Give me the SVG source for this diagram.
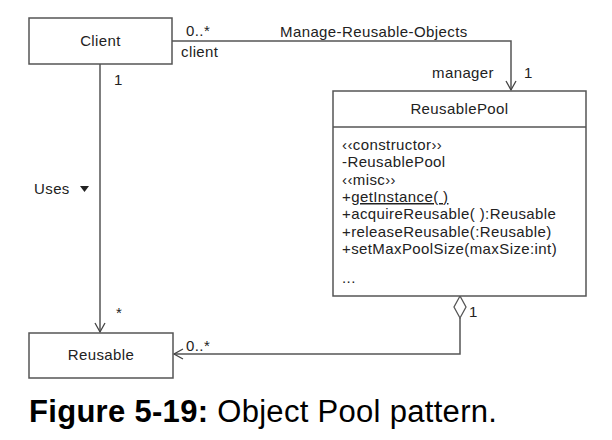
<svg xmlns="http://www.w3.org/2000/svg" width="612" height="440" viewBox="0 0 612 440">
<style>
.box{fill:#fff;stroke:#555;stroke-width:1.5}
.t{font-family:"Liberation Sans",Arial,sans-serif;font-size:15px;letter-spacing:0.4px;fill:#222}
.c{stroke:#555;stroke-width:1.5;fill:none}
.cap{font-family:"Liberation Sans",Arial,sans-serif;font-size:31px;letter-spacing:0.3px;fill:#000}
</style>
<defs>
<marker id="open" markerWidth="12" markerHeight="12" refX="10" refY="6" orient="auto" markerUnits="userSpaceOnUse">
<path d="M1,1 L10,6 L1,11" fill="none" stroke="#444" stroke-width="1.3"/>
</marker>
</defs>
<rect width="612" height="440" fill="#fff"/>
<g id="connectors">
<path class="c" d="M172,41 H511 V90" marker-end="url(#open)"/>
<path class="c" d="M100,64 V332" marker-end="url(#open)"/>
<path class="c" d="M460,318 V354 H174" marker-end="url(#open)"/>
<path d="M460,296 L466,307 L460,318 L454,307 Z" fill="#fff" stroke="#555" stroke-width="1.3"/>
<text class="t" x="186" y="36">0..*</text>
<text class="t" x="181" y="57">client</text>
<text class="t" x="280" y="37">Manage-Reusable-Objects</text>
<text class="t" x="432" y="78">manager</text>
<text class="t" x="524" y="78">1</text>
<text class="t" x="114" y="85">1</text>
<text class="t" x="34" y="194">Uses</text>
<path d="M80,186 L89,186 L84.5,192 Z" fill="#222"/>
<text class="t" x="116" y="318">*</text>
<text class="t" x="469" y="317">1</text>
<text class="t" x="186" y="351">0..*</text>
</g>
<g id="client">
<rect class="box" x="29" y="18" width="143" height="46"/>
<text class="t" x="100.5" y="46" text-anchor="middle">Client</text>
</g>
<g id="reusablepool">
<rect class="box" x="333" y="91" width="253" height="205"/>
<line class="c" x1="333" y1="127" x2="586" y2="127"/>
<text class="t" x="459.5" y="114" text-anchor="middle">ReusablePool</text>
<text class="t" x="342" y="150">‹‹constructor››</text>
<text class="t" x="342" y="167">-ReusablePool</text>
<text class="t" x="342" y="185">‹‹misc››</text>
<text class="t" x="342" y="202">+<tspan text-decoration="underline">getInstance( )</tspan></text>
<text class="t" x="342" y="219">+acquireReusable( ):Reusable</text>
<text class="t" x="342" y="237">+releaseReusable(:Reusable)</text>
<text class="t" x="342" y="254">+setMaxPoolSize(maxSize:int)</text>
<text class="t" x="342" y="283">...</text>
</g>
<g id="reusable">
<rect class="box" x="29" y="333" width="144" height="45"/>
<text class="t" x="101" y="360" text-anchor="middle">Reusable</text>
</g>
<text class="cap" x="29" y="422"><tspan font-weight="bold">Figure 5-19:</tspan> Object Pool pattern.</text>
</svg>
